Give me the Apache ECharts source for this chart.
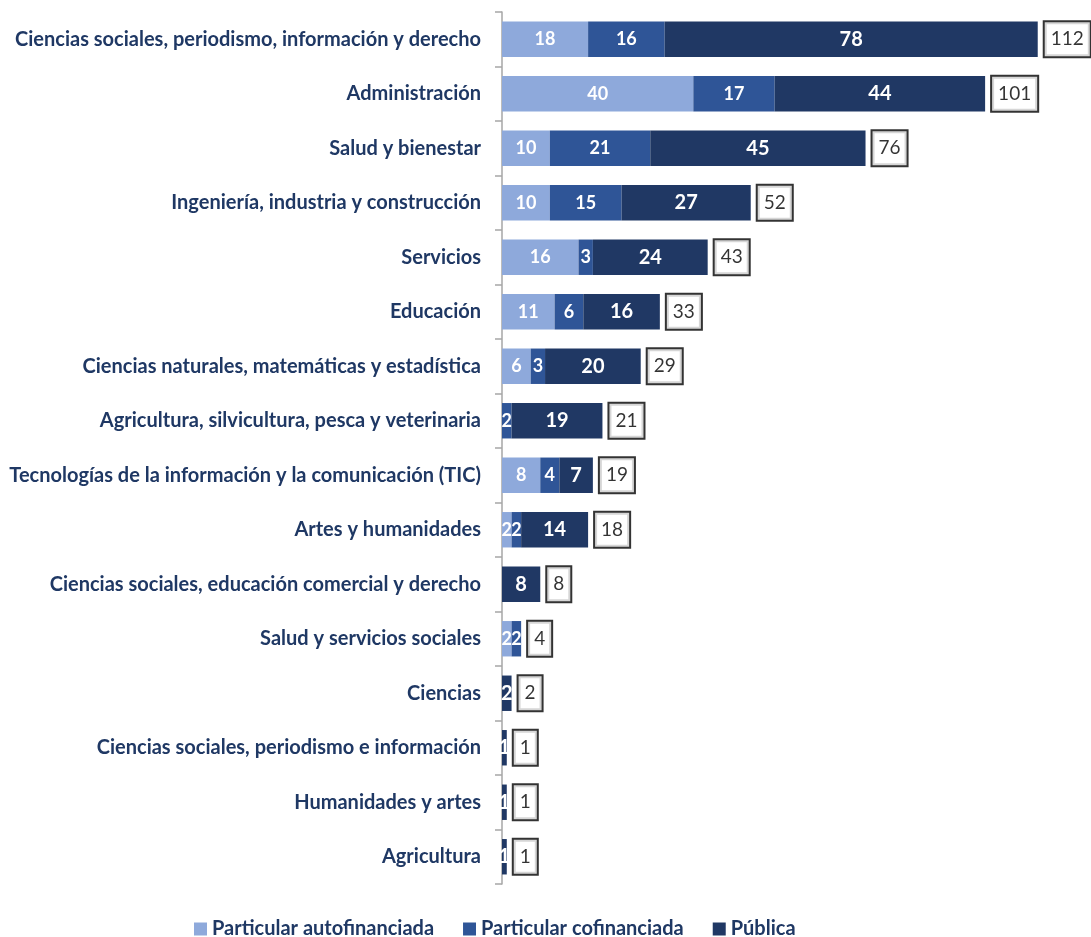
<!DOCTYPE html>
<html>
<head>
<meta charset="utf-8">
<script src="https://cdn.jsdelivr.net/npm/echarts@6/dist/echarts.min.js"></script>
<style>
  html, body { margin: 0; padding: 0; background: #fff; }
  #chart { width: 1091px; height: 937px; }
</style>
</head>
<body>
<div id="chart"></div>
<script>
// categorias (de arriba hacia abajo)
var categorias = [
  'Ciencias sociales, periodismo, información y derecho',
  'Administración',
  'Salud y bienestar',
  'Ingeniería, industria y construcción',
  'Servicios',
  'Educación',
  'Ciencias naturales, matemáticas y estadística',
  'Agricultura, silvicultura, pesca y veterinaria',
  'Tecnologías de la información y la comunicación (TIC)',
  'Artes y humanidades',
  'Ciencias sociales, educación comercial y derecho',
  'Salud y servicios sociales',
  'Ciencias',
  'Ciencias sociales, periodismo e información',
  'Humanidades y artes',
  'Agricultura'
];
var autofinanciada = [18, 40, 10, 10, 16, 11, 6, 0, 8, 2, 0, 2, 0, 0, 0, 0];
var cofinanciada   = [16, 17, 21, 15, 3, 6, 3, 2, 4, 2, 0, 2, 0, 0, 0, 0];
var publica        = [78, 44, 45, 27, 24, 16, 20, 19, 7, 14, 8, 0, 2, 1, 1, 1];

var totales = categorias.map(function(c, i) {
  return autofinanciada[i] + cofinanciada[i] + publica[i];
});

var fuente = 'Lato';
var azulTexto = '#1F3864';

function etiqueta(size) {
  return {
    show: true,
    position: 'inside',
    color: '#fff',
    fontFamily: fuente,
    fontWeight: 'bold',
    fontSize: size,
    formatter: function(p) { return p.value ? p.value : ''; }
  };
}

var chart = echarts.init(document.getElementById('chart'));
var option = {
  animation: false,
  backgroundColor: '#fff',
  grid: { left: 502, right: 15, top: 12, bottom: 53 },
  legend: {
    data: ['Particular autofinanciada', 'Particular cofinanciada', 'Pública'],
    top: 914,
    left: 189,
    itemWidth: 13,
    itemHeight: 13,
    itemGap: 29,
    icon: 'rect',
    textStyle: { color: azulTexto, fontFamily: fuente, fontWeight: 'bold', fontSize: 20 }
  },
  xAxis: {
    type: 'value',
    min: 0,
    max: 120,
    show: false
  },
  yAxis: {
    type: 'category',
    inverse: true,
    data: categorias,
    axisLine: { show: true, lineStyle: { color: '#A6A6A6', width: 1.5 } },
    axisTick: { show: true, length: 7, lineStyle: { color: '#A6A6A6', width: 1.5 } },
    axisLabel: {
      color: azulTexto,
      fontFamily: fuente,
      fontWeight: 'bold',
      fontSize: 20,
      margin: 21
    }
  },
  series: [
    {
      name: 'Particular autofinanciada',
      type: 'bar',
      stack: 'total',
      barCategoryGap: '35%',
      itemStyle: { color: '#8EA9DB' },
      label: etiqueta(18),
      data: autofinanciada
    },
    {
      name: 'Particular cofinanciada',
      type: 'bar',
      stack: 'total',
      itemStyle: { color: '#2F5597' },
      label: etiqueta(18),
      data: cofinanciada
    },
    {
      name: 'Pública',
      type: 'bar',
      stack: 'total',
      itemStyle: { color: '#203864' },
      label: etiqueta(20),
      data: publica
    },
    {
      name: 'Total',
      type: 'scatter',
      symbolSize: 0,
      silent: true,
      label: {
        show: true,
        position: 'right',
        distance: 7,
        color: '#000',
        fontFamily: fuente,
        fontSize: 19,
        borderColor: '#000',
        borderWidth: 2,
        padding: [8, 6, 7, 6],
        backgroundColor: '#fff',
        formatter: function(p) { return p.value[0]; }
      },
      data: totales.map(function(t, i) { return [t, i]; })
    }
  ]
};
chart.setOption(option);
</script>
</body>
</html>
